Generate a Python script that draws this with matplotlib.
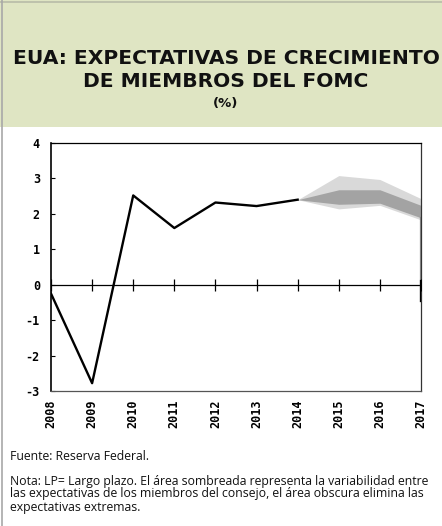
import matplotlib
matplotlib.use("Agg")
import matplotlib.pyplot as plt
from matplotlib.patches import Rectangle
from matplotlib.lines import Line2D

# ── Data ─────────────────────────────────────────────────────────────────────
YEARS = [2008, 2009, 2010, 2011, 2012, 2013, 2014]
GROWTH = [-0.25, -2.78, 2.52, 1.60, 2.32, 2.22, 2.40]

PROJ_YEARS = [2014, 2015, 2016, 2017]
RANGE_LO = [2.40, 2.14, 2.24, 1.83]
RANGE_HI = [2.40, 3.08, 2.97, 2.43]
CENTRAL_LO = [2.40, 2.27, 2.30, 1.89]
CENTRAL_HI = [2.40, 2.68, 2.68, 2.24]

XTICKS = list(range(2008, 2018))
YTICKS = [-3, -2, -1, 0, 1, 2, 3, 4]

TITLE = "EUA: EXPECTATIVAS DE CRECIMIENTO\nDE MIEMBROS DEL FOMC"
SUBTITLE = "(%)"
SOURCE = "Fuente: Reserva Federal."
NOTE = ("Nota: LP= Largo plazo. El área sombreada representa la variabilidad entre\n"
        "las expectativas de los miembros del consejo, el área obscura elimina las\n"
        "expectativas extremas.")

W, H = 442, 526
fig = plt.figure(figsize=(W / 100, H / 100), dpi=100)
fig.patch.set_facecolor("white")

# ── Title box ───────────────────────────────────────────────────────────────
fig.patches.append(Rectangle((0, 1 - 127 / H), 1, 127 / H, transform=fig.transFigure,
                             facecolor="#dfe5c3", edgecolor="none", zorder=0))
fig.lines.append(Line2D([0, 1], [1 - 1.5 / H, 1 - 1.5 / H], transform=fig.transFigure,
                        color="#b8bca8", lw=1.2))
fig.lines.append(Line2D([2 / W, 2 / W], [0, 1], transform=fig.transFigure,
                        color="#a8a8a8", lw=1.2))

fig.text(226 / W, 1 - 70 / H, TITLE, ha="center", va="center", fontsize=14.6,
         fontweight="bold", family="DejaVu Sans", linespacing=1.25, color="#111111")
fig.text(226 / W, 1 - 103 / H, SUBTITLE, ha="center", va="center", fontsize=9.5,
         fontweight="bold", family="DejaVu Sans", color="#111111")

# ── Chart ───────────────────────────────────────────────────────────────────
ax = fig.add_axes([51 / W, 1 - 391 / H, 370 / W, 248 / H])
ax.fill_between(PROJ_YEARS, RANGE_LO, RANGE_HI, color="#d9d9d9", lw=0, zorder=1)
ax.fill_between(PROJ_YEARS, CENTRAL_LO, CENTRAL_HI, color="#a3a3a3", lw=0, zorder=2)
ax.plot(YEARS, GROWTH, color="black", lw=1.7, zorder=4)

ax.axhline(0, color="black", lw=0.9, zorder=3)
ax.plot(XTICKS, [0] * len(XTICKS), ls="none", marker="|", ms=8, mew=0.9,
        color="black", zorder=3)
ax.plot([XTICKS[-1], XTICKS[-1]], [-0.45, CENTRAL_LO[-1]], color="#808080", lw=1.6,
        zorder=3)
ax.plot([XTICKS[-1], XTICKS[-1]], [-0.45, 0.1], color="black", lw=1.6, zorder=3)

ax.set_xlim(2008, 2017)
ax.set_ylim(-3, 4)
ax.set_xticks(XTICKS)
ax.set_xticklabels([str(y) for y in XTICKS], rotation=90, fontsize=8.5,
                   fontweight="bold", family="DejaVu Sans Mono")
ax.tick_params(axis="x", length=0, pad=6)
ax.set_yticks(YTICKS)
ax.set_yticklabels([str(v) for v in YTICKS], fontsize=8.5, fontweight="bold",
                   family="DejaVu Sans Mono")
ax.tick_params(axis="y", direction="in", length=3, width=0.8, pad=8)
for s in ax.spines.values():
    s.set_linewidth(0.9)
ax.spines["left"].set_linewidth(1.2)
ax.spines["bottom"].set_color("#555555")
ax.spines["right"].set_color("#333333")

# ── Footer ──────────────────────────────────────────────────────────────────
fig.text(10 / W, 1 - 456 / H, SOURCE, ha="left", va="center", fontsize=8.8,
         family="Open Sans", color="#111111")
fig.text(10 / W, 1 - 494 / H, NOTE, ha="left", va="center", fontsize=8.8,
         family="Open Sans", linespacing=1.0, color="#111111")

fig.savefig("out.png", dpi=100)
